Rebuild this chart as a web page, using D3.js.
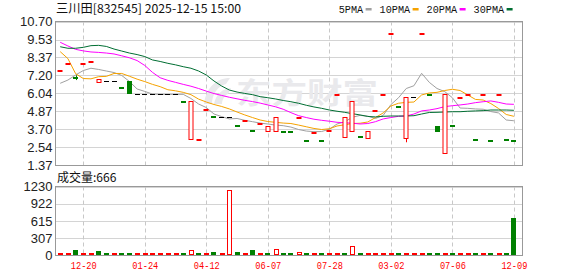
<!DOCTYPE html>
<html><head><meta charset="utf-8">
<script src="https://cdn.jsdelivr.net/npm/d3@7"></script>
<style>html,body{margin:0;padding:0;background:#fff;overflow:hidden}</style>
</head><body><svg id="c" width="578" height="276"></svg>
<script>
const title = "三川田[832545] 2025-12-15 15:00";
const volLabel = "成交量:666";
const opens = [7.51,8.00,7.08,8.00,8.11,6.76,6.84,6.84,6.48,6.84,
  6.02,6.02,6.02,6.02,6.02,6.02,5.55,3.04,3.01,4.99,
  4.53,4.50,4.50,3.98,4.25,3.66,4.09,3.58,3.57,3.61,
  3.60,4.47,3.01,3.47,3.01,3.60,5.94,3.17,3.57,3.29,
  3.11,4.92,5.94,9.91,5.24,3.11,5.78,9.91,6.00,3.93,
  2.17,3.98,5.75,5.94,3.07,5.94,3.01,5.94,3.07,3.01];
const closes = [7.54,8.03,7.05,8.03,8.14,6.99,6.84,6.84,6.45,6.01,
  6.02,6.02,6.02,6.02,6.02,6.02,5.52,5.52,3.04,5.02,
  4.50,4.50,4.50,3.95,4.28,3.63,4.12,3.91,4.48,3.58,
  3.57,4.50,2.98,3.50,2.98,3.63,5.97,4.50,5.54,3.26,
  3.57,4.95,5.97,9.94,5.21,5.78,5.78,9.94,5.97,3.54,
  5.97,3.95,5.78,5.97,3.04,5.97,2.98,5.97,3.04,2.98];
const highs = [7.54,8.03,7.21,8.03,8.14,6.99,6.84,6.84,6.48,6.84,
  6.02,6.02,6.02,6.02,6.02,6.02,5.55,5.52,3.04,5.02,
  4.53,4.50,4.50,3.98,4.28,3.66,4.12,3.91,4.48,3.61,
  3.60,4.50,3.01,3.50,3.01,3.63,5.97,4.50,5.54,3.29,
  3.57,4.95,5.97,9.94,5.24,5.78,5.78,9.94,6.00,3.93,
  5.97,3.98,5.78,5.97,3.07,5.97,3.01,5.97,3.07,3.01];
const lows = [7.51,8.00,6.90,8.00,8.11,6.76,6.84,6.84,6.45,6.01,
  6.02,6.02,6.02,6.02,6.02,6.02,5.52,3.04,3.01,4.99,
  4.50,4.50,4.50,3.95,4.25,3.63,4.09,3.58,3.57,3.58,
  3.57,4.47,2.98,3.47,2.98,3.60,5.94,3.17,3.57,3.26,
  3.11,4.92,5.94,9.91,5.21,2.85,5.78,9.91,5.97,3.54,
  2.17,3.95,5.75,5.94,3.04,5.94,2.98,5.94,3.04,2.98];
const volumes = [10,10,90,10,10,72,10,10,10,10,
  10,10,10,10,10,10,10,80,10,10,
  54,10,1150,54,10,90,10,10,84,10,
  10,40,40,10,10,10,10,10,144,10,
  10,10,10,10,10,10,10,10,10,10,
  10,10,10,10,10,10,10,10,10,666];
const ma5 = [6.69,6.90,7.23,7.52,7.67,7.59,7.49,7.39,7.20,6.81,
  6.32,6.16,5.99,5.97,5.97,5.97,5.97,5.70,5.34,5.11,
  4.69,4.52,4.37,4.40,4.28,4.19,4.10,4.04,3.97,3.93,
  3.84,3.68,3.58,3.54,3.55,3.70,4.04,4.18,4.48,4.60,
  4.55,4.40,4.60,5.30,5.75,6.35,6.53,7.34,6.75,6.35,
  6.15,5.75,5.08,5.06,5.02,5.00,4.85,4.76,4.30,4.25];
const ma10 = [8.75,8.30,7.32,7.00,6.98,7.12,7.14,7.33,7.33,7.15,
  6.96,6.80,6.62,6.47,6.27,6.20,6.10,5.95,5.66,5.47,
  5.31,5.18,5.02,4.82,4.63,4.46,4.30,4.20,4.15,4.10,
  4.07,3.97,3.86,3.75,3.68,3.73,3.91,3.99,4.07,4.09,
  4.17,4.46,4.76,5.21,5.39,5.45,5.47,5.93,6.06,6.10,
  6.22,6.30,6.22,5.93,5.64,5.60,5.37,5.05,4.66,4.54];
const ma20 = [9.36,9.12,8.90,8.80,8.73,8.70,8.66,8.60,8.48,8.35,
  8.17,7.85,7.40,7.05,6.88,6.75,6.62,6.50,6.35,6.18,
  6.02,5.90,5.78,5.68,5.58,5.50,5.40,5.28,5.16,5.00,
  4.78,4.58,4.46,4.35,4.28,4.22,4.15,4.12,4.09,4.04,
  4.07,4.19,4.37,4.46,4.54,4.56,4.69,4.89,4.95,5.04,
  5.17,5.23,5.28,5.34,5.43,5.49,5.54,5.45,5.34,5.32];
const ma30 = [9.07,8.97,8.97,9.03,9.14,9.16,9.09,8.92,8.79,8.66,
  8.56,8.43,8.21,8.11,7.99,7.89,7.77,7.67,7.49,7.23,
  6.84,6.51,6.25,6.12,6.03,5.95,5.82,5.75,5.67,5.57,
  5.49,5.39,5.26,5.15,5.06,4.95,4.87,4.80,4.71,4.63,
  4.53,4.50,4.54,4.56,4.56,4.56,4.58,4.69,4.79,4.80,
  4.82,4.84,4.84,4.87,4.89,4.91,4.95,4.95,4.95,4.93];
const priceTicks = [1.37,2.54,3.70,4.87,6.04,7.20,8.37,9.53,10.70];
const volTicks = [0,307,615,922,1230];
const dateTickIdx = [3,11,19,27,35,43,51,59];
const dateTickLabels = ["12-20","01-24","04-12","06-07","07-28","03-02","07-06","12-09"];
const maNames = ["5PMA","10PMA","20PMA","30PMA"];

const RED="#ff0000", GREEN="#008000";
const maColors = ["#a0a0a0","#f5a200","#ff00ff","#006e32"];
const svg = d3.select("#c");
const L=55.5, R=522.5, T1=21.5, B1=165.5, T2=186.5, B2=255.5;
const x = d3.scaleLinear().domain([0,59]).range([60.2,513.9]);
const yP = d3.scaleLinear().domain([1.37,10.70]).range([165,21.7]);
const yV = d3.scaleLinear().domain([0,1230]).range([255,186.7]);
const N = closes.length;
const px = v => Math.round(v)+0.5;

// title
svg.append("text").attr("x",56).attr("y",13).attr("font-family","'Noto Sans CJK SC','Liberation Mono'")
  .attr("font-size",12).attr("fill","#111").attr("textLength",185).attr("lengthAdjust","spacingAndGlyphs").text(title);

// legend
let lx = 338.7;
maNames.forEach((n,k)=>{
  const w = n.length*6.1;
  svg.append("text").attr("x",lx).attr("y",13).attr("font-family","'Liberation Mono',monospace")
    .attr("font-size",11).attr("fill","#111").attr("textLength",w).attr("lengthAdjust","spacingAndGlyphs").text(n);
  svg.append("rect").attr("x",lx+w+2.5).attr("y",8).attr("width",6).attr("height",2.5).attr("fill",maColors[k]);
  lx += w+2.5+6+8;
});

// grid
const grid = svg.append("g");
priceTicks.forEach(t=>{ grid.append("line").attr("x1",L).attr("x2",R).attr("y1",px(yP(t))).attr("y2",px(yP(t))).attr("stroke","#d4d4d4"); });
volTicks.forEach(t=>{ grid.append("line").attr("x1",L).attr("x2",R).attr("y1",px(yV(t))).attr("y2",px(yV(t))).attr("stroke","#d4d4d4"); });
dateTickIdx.forEach(i=>{
  [[T1,B1],[T2,B2]].forEach(([a,b])=>{
    grid.append("line").attr("x1",px(x(i))).attr("x2",px(x(i))).attr("y1",a).attr("y2",b)
      .attr("stroke","#c8c8c8").attr("stroke-dasharray","4,3");
  });
});

// watermark
const wm = svg.append("g").attr("fill","#e9e9ec");
wm.append("text").attr("x",236).attr("y",104).attr("font-family","'Noto Sans CJK SC'").attr("font-weight","bold")
  .attr("font-size",29).attr("textLength",142).attr("lengthAdjust","spacingAndGlyphs").text("东方财富");
wm.append("path").attr("d","M204,104 C206,88 216,78 230,78 L226,84 C218,86 212,94 212,104 Z M214,104 C216,94 222,89 231,88 L228,94 C224,96 222,100 222,104 Z");

// frames
[[T1,B1],[T2,B2]].forEach(([a,b])=>{
  svg.append("rect").attr("x",L).attr("y",a).attr("width",R-L).attr("height",b-a).attr("fill","none").attr("stroke","#999");
});

// axes labels
const yAxP = d3.axisLeft(yP).tickValues(priceTicks).tickFormat(d3.format(".2f")).tickSize(0).tickPadding(3);
const gP = svg.append("g").attr("transform",`translate(${L},0)`).call(yAxP);
const yAxV = d3.axisLeft(yV).tickValues(volTicks).tickFormat(d3.format("d")).tickSize(0).tickPadding(3);
const gV = svg.append("g").attr("transform",`translate(${L},0)`).call(yAxV);
[gP,gV].forEach(g=>{ g.select(".domain").remove(); g.selectAll("text").attr("font-family","'Liberation Sans',Arial").attr("font-size",13).attr("fill","#222"); });

const xAx = d3.axisBottom(x).tickValues(dateTickIdx).tickFormat((d,k)=>dateTickLabels[k]).tickSize(0).tickPadding(6);
const gX = svg.append("g").attr("transform",`translate(0,${B2})`).call(xAx);
gX.select(".domain").remove();
gX.selectAll("text").attr("font-family","'Liberation Mono',monospace").attr("font-size",11).attr("fill",RED)
  .attr("textLength",26).attr("lengthAdjust","spacingAndGlyphs");

svg.append("text").attr("x",57).attr("y",182).attr("font-family","'Noto Sans CJK SC'").attr("font-size",12).attr("fill","#111").text(volLabel);

// volumes
const vg = svg.append("g");
d3.range(N).forEach(i=>{
  const up = i===0 || closes[i] >= closes[i-1];
  const cx = x(i), top = yV(volumes[i]), h = Math.max(1, 255 - top);
  if(up){
    vg.append("rect").attr("x",Math.round(cx-2)+0.5).attr("y",Math.round(255-h)+0.5-1).attr("width",4).attr("height",Math.round(h))
      .attr("fill","#fff").attr("stroke",RED);
  } else {
    vg.append("rect").attr("x",Math.round(cx-2.5)).attr("y",Math.round(255-Math.max(2,h))).attr("width",5).attr("height",Math.round(Math.max(2,h)))
      .attr("fill",GREEN);
  }
});

// MA lines
const line = d3.line().x((d,i)=>x(i)).y(d=>yP(d));
[ma5,ma10,ma20,ma30].forEach((arr,k)=>{
  svg.append("path").attr("d",line(arr)).attr("fill","none").attr("stroke",maColors[k]).attr("stroke-width",1);
});

// candles
const cg = svg.append("g");
d3.range(N).forEach(i=>{
  const o=opens[i], c=closes[i], cx=x(i);
  const bt = Math.max(o,c), bb = Math.min(o,c);
  const col = c>o ? RED : (c<o ? GREEN : "#000");
  if(highs[i]>bt || lows[i]<bb){
    cg.append("line").attr("x1",px(cx)).attr("x2",px(cx)).attr("y1",yP(highs[i])).attr("y2",yP(lows[i])).attr("stroke",col);
  }
  const yt = Math.round(yP(bt)), yb = Math.round(yP(bb));
  if(c>o){
    cg.append("rect").attr("x",Math.round(cx-2)).attr("y",yt+0.5).attr("width",4).attr("height",Math.max(1,yb-yt))
      .attr("fill","#fff").attr("stroke",RED);
  } else if(c<o){
    cg.append("rect").attr("x",Math.round(cx-2.5)).attr("y",yt).attr("width",5).attr("height",Math.max(2,yb-yt)).attr("fill",GREEN);
  } else {
    cg.append("line").attr("x1",Math.round(cx-2.5)).attr("x2",Math.round(cx+2.5)).attr("y1",yt+0.5).attr("y2",yt+0.5).attr("stroke","#000");
  }
});
</script></body></html>
